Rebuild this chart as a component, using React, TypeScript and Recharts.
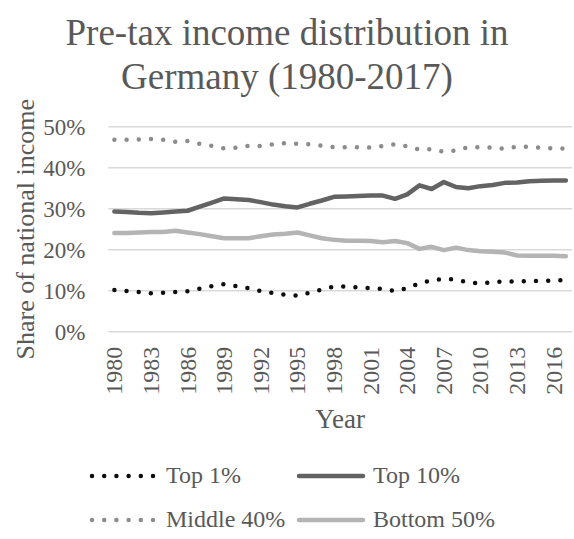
import React from 'react';
import { LineChart, Line, XAxis, YAxis, CartesianGrid, Legend, Label } from 'recharts';

// pre-tax national income shares, Germany
const years = [
  '1980', '1981', '1982', '1983', '1984', '1985', '1986', '1987', '1988', '1989',
  '1990', '1991', '1992', '1993', '1994', '1995', '1996', '1997', '1998', '1999',
  '2000', '2001', '2002', '2003', '2004', '2005', '2006', '2007', '2008', '2009',
  '2010', '2011', '2012', '2013', '2014', '2015', '2016', '2017',
];

const top1 = [
  10.2, 9.9, 9.7, 9.4, 9.5, 9.7, 9.9, 10.5, 11.1, 11.6,
  11.1, 10.6, 9.9, 9.4, 9.0, 8.8, 9.5, 10.3, 11.0, 11.0,
  10.8, 10.6, 10.4, 9.9, 10.6, 11.8, 12.5, 12.9, 12.7, 12.0,
  11.8, 12.1, 12.2, 12.3, 12.3, 12.4, 12.5, 12.6,
];

const top10 = [
  29.3, 29.2, 29.0, 28.9, 29.1, 29.3, 29.5, 30.5, 31.5, 32.5,
  32.3, 32.1, 31.6, 31.0, 30.6, 30.3, 31.2, 32.0, 32.9, 33.0,
  33.1, 33.2, 33.2, 32.4, 33.5, 35.7, 34.8, 36.5, 35.3, 35.0,
  35.5, 35.8, 36.3, 36.4, 36.7, 36.8, 36.9, 36.9,
];

const middle40 = [
  46.8, 46.8, 46.9, 47.0, 46.8, 46.3, 46.5, 45.8, 45.3, 44.7,
  44.9, 45.3, 45.3, 45.7, 46.0, 45.8, 45.7, 45.4, 45.0, 45.0,
  45.0, 44.9, 45.3, 45.7, 45.2, 44.4, 44.5, 43.9, 44.2, 45.0,
  45.0, 44.9, 44.6, 45.1, 45.1, 44.9, 44.7, 44.7,
];

const bottom50 = [
  24.1, 24.1, 24.2, 24.3, 24.3, 24.6, 24.2, 23.8, 23.3, 22.8,
  22.8, 22.8, 23.3, 23.7, 23.9, 24.2, 23.5, 22.8, 22.4, 22.2,
  22.2, 22.1, 21.8, 22.1, 21.6, 20.2, 20.7, 19.9, 20.5, 19.9,
  19.6, 19.5, 19.3, 18.6, 18.5, 18.5, 18.5, 18.4,
];

const yTicks = [0, 10, 20, 30, 40, 50];

const data = years.map((year, i) => ({
  year,
  top1: top1[i],
  top10: top10[i],
  middle40: middle40[i],
  bottom50: bottom50[i],
}));

const FONT = "'Liberation Serif', 'Times New Roman', serif";
const TEXT = '#595959';

const series = [
  { key: 'top1', name: 'Top 1%', color: '#0d0d0d', dash: '0 12.2' },
  { key: 'top10', name: 'Top 10%', color: '#636363', dash: undefined },
  { key: 'middle40', name: 'Middle 40%', color: '#8c8c8c', dash: '0 12.2' },
  { key: 'bottom50', name: 'Bottom 50%', color: '#b4b4b4', dash: undefined },
];

const legendSpots = [
  { left: 88, top: 0 },
  { left: 295, top: 0 },
  { left: 88, top: 44 },
  { left: 295, top: 44 },
];

const YearTick = ({ x, y, payload }: any) => (
  <g transform={`translate(${x},${y}) rotate(-90)`}>
    <text textAnchor="end" dominantBaseline="central" fill={TEXT} fontSize={24} fontFamily={FONT}>
      {payload.value}
    </text>
  </g>
);

const YTitle = ({ viewBox }: any) => {
  const cx = viewBox.x + 26;
  const cy = viewBox.y + viewBox.height / 2;
  return (
    <text
      x={cx}
      y={cy}
      transform={`rotate(-90, ${cx}, ${cy})`}
      textAnchor="middle"
      dominantBaseline="central"
      fill={TEXT}
      fontSize={26}
      fontFamily={FONT}
    >
      Share of national income
    </text>
  );
};

const renderLegend = ({ payload }: any) => (
  <div style={{ position: 'relative', width: 574, height: 80 }}>
    {(payload || []).map((entry: any) => {
      const idx = series.findIndex((s) => s.key === entry.dataKey);
      const s = series[idx];
      if (!s) return null;
      const spot = legendSpots[idx];
      return (
        <div
          key={s.key}
          style={{
            position: 'absolute',
            left: spot.left,
            top: spot.top,
            display: 'flex',
            alignItems: 'center',
            fontFamily: FONT,
            fontSize: 24,
            color: TEXT,
            whiteSpace: 'nowrap',
          }}
        >
          <svg width={72} height={10}>
            <line
              x1={4}
              y1={5}
              x2={68}
              y2={5}
              stroke={s.color}
              strokeWidth={4.5}
              strokeLinecap="round"
              strokeDasharray={s.dash}
            />
          </svg>
          <span style={{ marginLeft: 6 }}>{s.name}</span>
        </div>
      );
    })}
  </div>
);

export default function App() {
  return (
    <div style={{ position: 'relative', width: 574, height: 539, background: '#fff' }}>
      <style>{'body{margin:0}'}</style>
      <div
        style={{
          position: 'absolute',
          top: 11,
          left: 0,
          width: 574,
          textAlign: 'center',
          fontFamily: FONT,
          fontSize: 37,
          lineHeight: '44px',
          color: TEXT,
        }}
      >
        Pre-tax income distribution in
        <br />
        Germany (1980-2017)
      </div>
      <LineChart
        width={574}
        height={539}
        data={data}
        margin={{ top: 126.7, right: 2, bottom: 97.3, left: 0 }}
      >
        <CartesianGrid vertical={false} stroke="#d9d9d9" strokeWidth={1.5} />
        <XAxis
          dataKey="year"
          interval={2}
          height={110}
          axisLine={false}
          tickLine={false}
          tickSize={0}
          tickMargin={15}
          padding={{ left: 6.1, right: 6.1 }}
          tick={<YearTick />}
        >
          <Label
            value="Year"
            position="insideBottom"
            offset={14}
            fill={TEXT}
            fontSize={27}
            fontFamily={FONT}
          />
        </XAxis>
        <YAxis
          width={108.3}
          domain={[0, 50]}
          ticks={yTicks}
          axisLine={false}
          tickLine={false}
          tickSize={0}
          tickMargin={23}
          tickFormatter={(v: number) => `${v}%`}
          tick={{ fill: TEXT, fontSize: 23, fontFamily: FONT }}
        >
          <Label content={<YTitle />} />
        </YAxis>
        <Legend
          layout="vertical"
          align="center"
          verticalAlign="middle"
          wrapperStyle={{ top: 462, left: 0, width: 574 }}
          content={renderLegend}
        />
        {series.map((s) => (
          <Line
            key={s.key}
            type="linear"
            dataKey={s.key}
            name={s.name}
            stroke={s.color}
            strokeWidth={4.5}
            strokeDasharray={s.dash}
            strokeLinecap="round"
            strokeLinejoin="round"
            dot={false}
            activeDot={false}
            isAnimationActive={false}
          />
        ))}
      </LineChart>
    </div>
  );
}
